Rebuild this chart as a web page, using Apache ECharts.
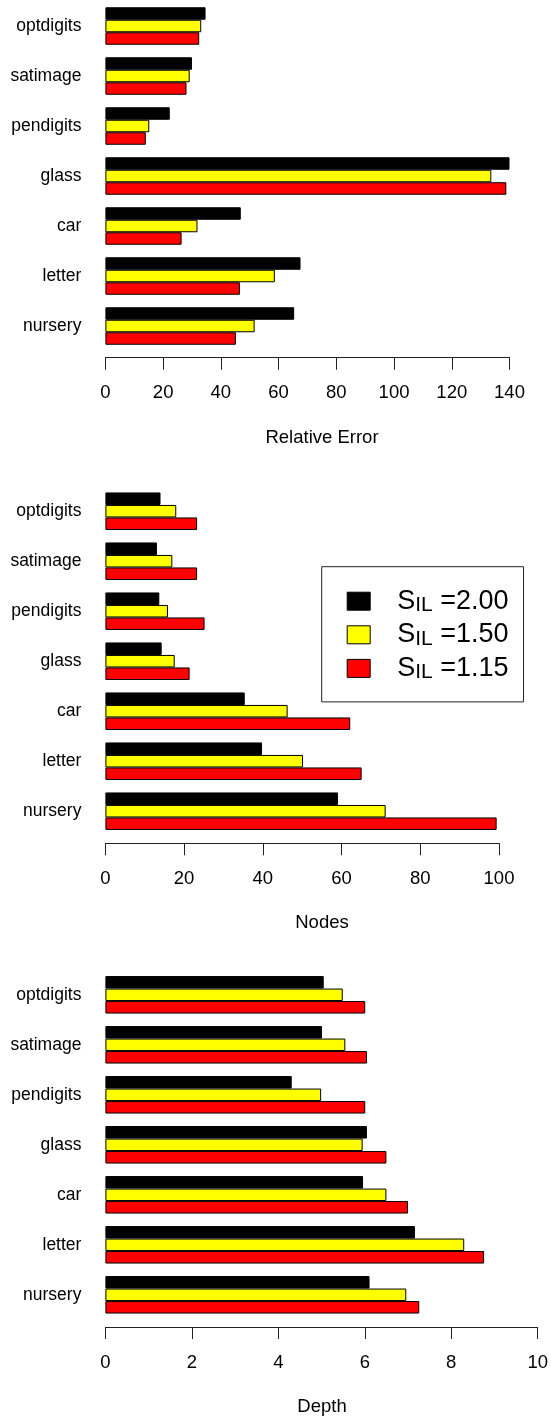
<!DOCTYPE html>
<html>
<head>
<meta charset="utf-8">
<script src="https://cdn.jsdelivr.net/npm/echarts@6/dist/echarts.min.js"></script>
<style>
  html, body { margin: 0; padding: 0; background: #fff; }
  #chart { width: 551px; height: 1419px; }
</style>
</head>
<body>
<div id="chart"></div>
<script>
// Data sets on the category axis (top to bottom)
const datasets = ['optdigits', 'satimage', 'pendigits', 'glass', 'car', 'letter', 'nursery'];
// S_IL threshold settings, one series each
const thresholds = ['2.00', '1.50', '1.15'];
const barColors = ['#000000', '#ffff00', '#ff0000'];

// Relative error
const errorS200 = [34.7, 30.0, 22.3, 140.0, 46.9, 67.6, 65.4];
const errorS150 = [33.2, 29.2, 15.2, 133.7, 31.9, 58.7, 51.7];
const errorS115 = [32.5, 28.1, 14.0, 138.9, 26.4, 46.6, 45.2];

// Number of nodes
const nodesS200 = [14.0, 13.1, 13.7, 14.3, 35.4, 39.8, 59.1];
const nodesS150 = [18.0, 17.0, 15.9, 17.6, 46.3, 50.2, 71.2];
const nodesS115 = [23.3, 23.3, 25.2, 21.4, 62.2, 65.1, 99.4];

// Tree depth
const depthS200 = [5.05, 5.01, 4.31, 6.05, 5.96, 7.16, 6.11];
const depthS150 = [5.49, 5.55, 4.99, 5.95, 6.50, 8.30, 6.96];
const depthS115 = [6.01, 6.05, 6.01, 6.50, 7.00, 8.76, 7.26];

// Axis tick ranges per panel
const errorTicks = { max: 140, step: 20 };
const nodesTicks = { max: 100, step: 20 };
const depthTicks = { max: 10, step: 2 };

const axisTitles = ['Relative Error', 'Nodes', 'Depth'];

const FONT = '"Liberation Sans", Arial, Helvetica, sans-serif';

const panels = [
  { grid: { left: 105.4, width: 404.1, top: 1, height: 350 }, ticks: errorTicks,
    values: [errorS200, errorS150, errorS115], offset: 6.7 },
  { grid: { left: 105.4, width: 393.6, top: 486.2, height: 350 }, ticks: nodesTicks,
    values: [nodesS200, nodesS150, nodesS115], offset: 7.1 },
  { grid: { left: 105.4, width: 433.0, top: 969.8, height: 350 }, ticks: depthTicks,
    values: [depthS200, depthS150, depthS115], offset: 7.2 }
];

const grid = [], xAxis = [], yAxis = [], series = [], graphic = [];

panels.forEach((p, i) => {
  grid.push(Object.assign({ containLabel: false }, p.grid));
  xAxis.push({
    type: 'value', gridIndex: i, min: 0, max: p.ticks.max, interval: p.ticks.step,
    position: 'bottom', offset: p.offset,
    axisLine: { show: true, lineStyle: { color: '#222', width: 1 } },
    axisTick: { show: true, length: 12, lineStyle: { color: '#222', width: 1 } },
    splitLine: { show: false },
    axisLabel: { color: '#000', fontFamily: FONT, fontSize: 18.5, margin: 26,
                 showMinLabel: true, showMaxLabel: true }
  });
  yAxis.push({
    type: 'category', gridIndex: i, data: datasets, inverse: true,
    axisLine: { show: false }, axisTick: { show: false },
    axisLabel: { color: '#000', fontFamily: FONT, fontSize: 17.5, margin: 24 }
  });
  thresholds.forEach((t, k) => {
    series.push({
      type: 'bar', name: t, xAxisIndex: i, yAxisIndex: i,
      data: p.values[k],
      barGap: '0%', barCategoryGap: '25%',
      itemStyle: { color: barColors[k], borderColor: '#000', borderWidth: 1 },
      emphasis: { disabled: true },
      animation: false
    });
  });
  const axisY = p.grid.top + p.grid.height + p.offset;
  graphic.push({
    type: 'text', left: 'center', x: 0,
    position: [322, axisY + 80],
    style: { text: axisTitles[i], fill: '#000', font: '18.5px ' + FONT,
             textAlign: 'center', textVerticalAlign: 'middle' }
  });
});

// drop the layout keys that conflict with absolute placement
graphic.forEach(g => { delete g.left; delete g.x; });

const chart = echarts.init(document.getElementById('chart'), null, { renderer: 'canvas' });
chart.setOption({
  backgroundColor: '#fff',
  animation: false,
  grid, xAxis, yAxis, series, graphic,
  legend: {
    data: thresholds,
    orient: 'vertical',
    left: 321.7, top: 566.7,
    padding: [20, 15, 19, 25],
    itemGap: 4.6,
    itemWidth: 23, itemHeight: 18,
    icon: 'rect',
    borderColor: '#222', borderWidth: 1,
    itemStyle: { borderWidth: 1, borderColor: '#000' },
    selectedMode: false,
    formatter: name => '{g| }{s|S}{sub|IL}{s| =' + name + '}',
    textStyle: {
      color: '#000', fontFamily: FONT, fontSize: 27,
      rich: {
        g: { width: 22 },
        s: { fontFamily: FONT, fontSize: 27, lineHeight: 30, color: '#000' },
        sub: { fontFamily: FONT, fontSize: 21, lineHeight: 21, padding: [8, 0, 0, 0], color: '#000' }
      }
    }
  }
});
</script>
</body>
</html>
